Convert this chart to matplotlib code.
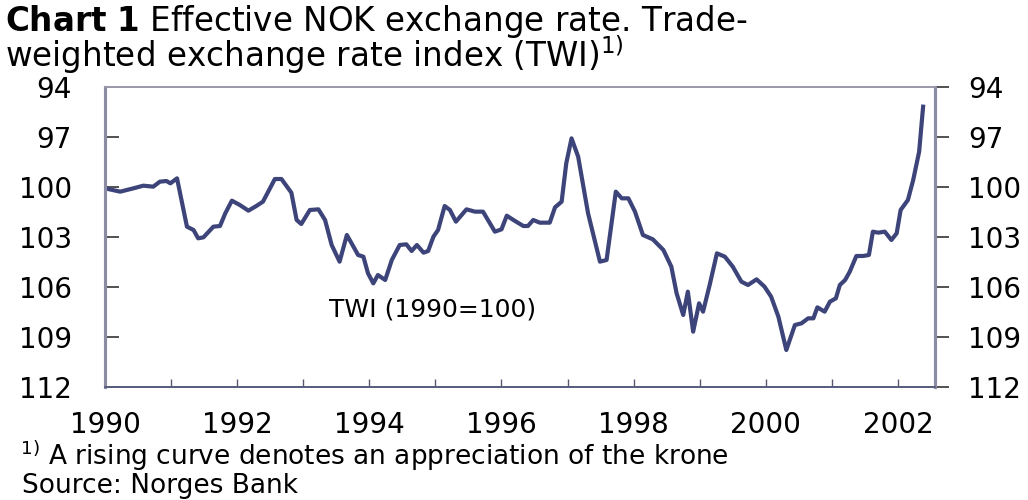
import matplotlib
matplotlib.use("Agg")
import matplotlib.pyplot as plt
from matplotlib.ticker import MultipleLocator, FixedLocator

plt.rcParams['font.family'] = ['DejaVu Sans']
plt.rcParams['mathtext.fontset'] = 'dejavusans'

# TWI (1990=100), points: decimal year, index value
years = [1990.00, 1990.23, 1990.43, 1990.58, 1990.73, 1990.83, 1990.93, 1990.99,
         1991.09, 1991.24, 1991.34, 1991.41, 1991.49, 1991.64, 1991.74, 1991.82,
         1991.92, 1992.04, 1992.17, 1992.29, 1992.39, 1992.47, 1992.57, 1992.67,
         1992.82, 1992.90, 1992.97, 1993.10, 1993.23, 1993.33, 1993.43, 1993.55,
         1993.66, 1993.76, 1993.83, 1993.91, 1993.98, 1994.06, 1994.13, 1994.24,
         1994.34, 1994.46, 1994.56, 1994.64, 1994.72, 1994.82, 1994.89, 1994.97,
         1995.04, 1995.14, 1995.22, 1995.31, 1995.47, 1995.60, 1995.72, 1995.90,
         1996.00, 1996.08, 1996.18, 1996.33, 1996.40, 1996.48, 1996.58, 1996.73,
         1996.81, 1996.91, 1996.98, 1997.06, 1997.16, 1997.31, 1997.49, 1997.59,
         1997.73, 1997.82, 1997.92, 1998.02, 1998.14, 1998.29, 1998.45, 1998.57,
         1998.65, 1998.75, 1998.82, 1998.90, 1998.99, 1999.05, 1999.15, 1999.26,
         1999.38, 1999.50, 1999.63, 1999.73, 1999.86, 1999.98, 2000.08, 2000.19,
         2000.31, 2000.44, 2000.54, 2000.64, 2000.72, 2000.78, 2000.89, 2000.97,
         2001.06, 2001.12, 2001.20, 2001.27, 2001.37, 2001.47, 2001.56, 2001.62,
         2001.70, 2001.80, 2001.90, 2001.98, 2002.04, 2002.15, 2002.23, 2002.32,
         2002.38]
twi = [100.08, 100.28, 100.08, 99.92, 99.98, 99.68, 99.64, 99.78,
       99.48, 102.38, 102.58, 103.08, 103.02, 102.38, 102.34, 101.58,
       100.82, 101.08, 101.42, 101.14, 100.88, 100.28, 99.52, 99.52,
       100.34, 101.98, 102.22, 101.38, 101.34, 101.98, 103.48, 104.48,
       102.88, 103.58, 104.08, 104.18, 105.18, 105.78, 105.28, 105.58,
       104.38, 103.48, 103.44, 103.84, 103.48, 103.94, 103.84, 102.98,
       102.58, 101.14, 101.38, 102.08, 101.34, 101.48, 101.48, 102.68,
       102.54, 101.72, 101.98, 102.34, 102.34, 101.98, 102.14, 102.14,
       101.22, 100.88, 98.58, 97.08, 98.18, 101.58, 104.48, 104.38,
       100.28, 100.68, 100.68, 101.48, 102.88, 103.14, 103.78, 104.78,
       106.38, 107.68, 106.28, 108.68, 106.98, 107.48, 105.88, 103.98,
       104.18, 104.78, 105.68, 105.88, 105.54, 105.98, 106.58, 107.78,
       109.78, 108.28, 108.18, 107.88, 107.88, 107.22, 107.48, 106.88,
       106.68, 105.88, 105.58, 105.08, 104.14, 104.14, 104.08, 102.68,
       102.74, 102.68, 103.18, 102.78, 101.38, 100.78, 99.58, 97.88,
       95.18]

y_ticks = [94, 97, 100, 103, 106, 109, 112]
x_labels = [1990, 1992, 1994, 1996, 1998, 2000, 2002]

line_color = '#3d4479'
frame_color = '#8a8ca3'

fig = plt.figure(figsize=(10.28, 5.0), dpi=100)
ax = fig.add_axes([105 / 1028, 113 / 500, 830 / 1028, 300 / 500])

ax.plot(years, twi, color=line_color, lw=3.0, solid_joinstyle='round')

ax.set_xlim(1990, 2002.56)
ax.set_ylim(112, 94)

ax.xaxis.set_major_locator(FixedLocator(x_labels))
ax.xaxis.set_minor_locator(MultipleLocator(1))
ax.set_yticks(y_ticks)

ax.tick_params(axis='x', which='both', direction='in', length=6, width=1,
               color='#555870', pad=17, labelsize=20)
ax.tick_params(axis='y', direction='in', length=10, width=1.2,
               color='#333333', pad=24, labelsize=20)

ax2 = ax.twinx()
ax2.set_ylim(112, 94)
ax2.set_yticks(y_ticks)
ax2.tick_params(axis='y', direction='out', length=10, width=1.2,
                color='#333333', pad=14, labelsize=20)

for a in (ax, ax2):
    a.spines['left'].set_color(frame_color)
    a.spines['right'].set_color(frame_color)
    a.spines['left'].set_linewidth(2.2)
    a.spines['right'].set_linewidth(2.2)
    a.spines['top'].set_color('#9a9aab')
    a.spines['top'].set_linewidth(1.3)
    a.spines['bottom'].set_color('#5a5e7e')
    a.spines['bottom'].set_linewidth(1.3)

ax.text(1994.95, 107.35, 'TWI (1990=100)', fontsize=18, va='center', ha='center')

fig.text(5 / 1028, 1 - 3 / 500,
         '$\\bf{Chart\\ 1}$ Effective NOK exchange rate. Trade-\n'
         'weighted exchange rate index (TWI)$^{1)}$',
         fontsize=23.5, va='top', ha='left', linespacing=0.8)
fig.text(20 / 1028, 1 - 465 / 500,
         r'$^{1)}$ A rising curve denotes an appreciation of the krone',
         fontsize=19, va='baseline', ha='left')
fig.text(22 / 1028, 1 - 493 / 500, 'Source: Norges Bank',
         fontsize=19, va='baseline', ha='left')

fig.savefig('out.png', dpi=100)
